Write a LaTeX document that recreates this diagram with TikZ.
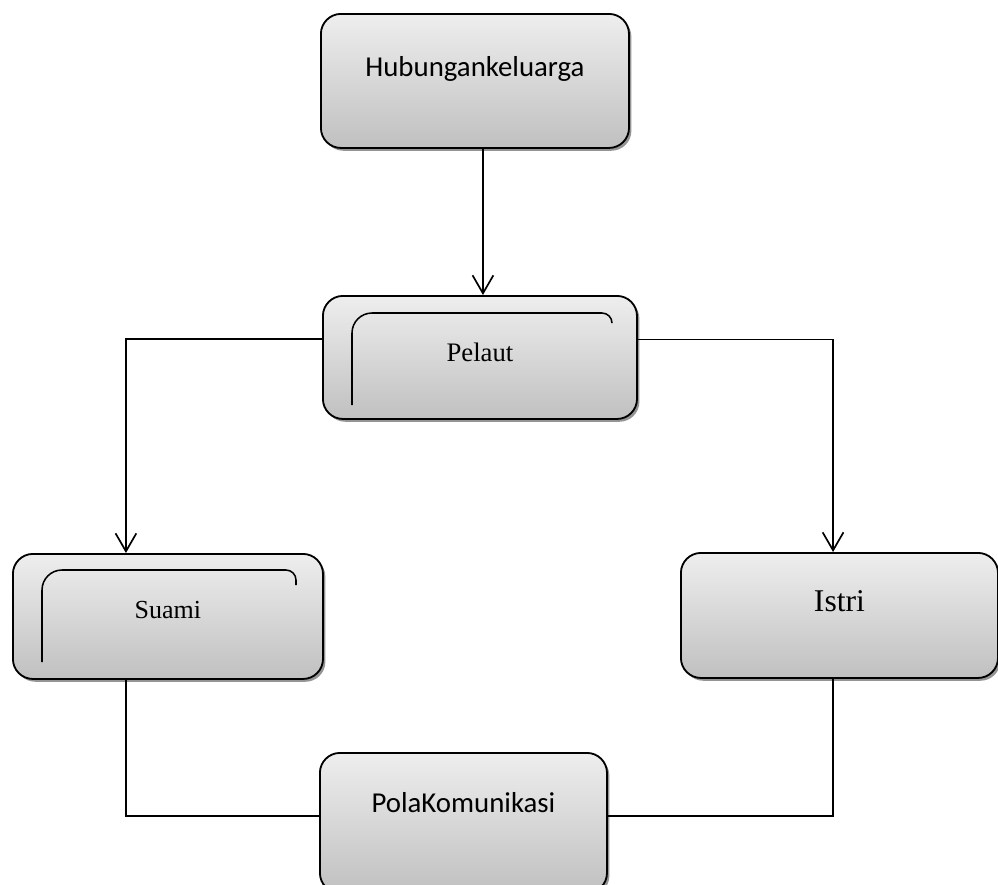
\documentclass[tikz,border=0pt]{standalone}
\usepackage{fontspec}
\setmainfont{Liberation Serif}
\newfontfamily\calibrifont{Carlito}
\usetikzlibrary{arrows.meta,positioning,shadows}
\definecolor{BoxTop}{RGB}{238,238,238}
\definecolor{BoxBottom}{RGB}{192,192,192}
\tikzset{
  relbox/.style={draw=black,line width=1.3pt,rounded corners=0.5cm,
    top color=BoxTop,bottom color=BoxBottom,inner sep=0pt,
    minimum height=0pt,anchor=north west,
    drop shadow={shadow xshift=0.06cm,shadow yshift=-0.07cm,
      fill=black!60,opacity=0.7}},
  sanslabel/.style={font=\calibrifont\fontsize{20.5}{24}\selectfont},
  seriflabel/.style={font=\fontsize{19}{23}\selectfont},
  relarrow/.style={-{Straight Barb[length=0.45cm,width=0.52cm]},
    line width=1.2pt},
  relline/.style={line width=1.2pt},
  innerframe/.style={line width=1.1pt},
}

\begin{document}
\begin{tikzpicture}[x=0.025cm,y=-0.025cm]
\useasboundingbox (0,0) rectangle (998,884);
\node[relbox,sanslabel,minimum width=7.7cm,text height=1.575cm,text depth=1.775cm] (hub) at (320,13) {Hubungankeluarga};
\node[relbox,seriflabel,minimum width=7.85cm,text height=1.65cm,text depth=1.425cm] (pelaut) at (322,295) {Pelaut};
\node[relbox,font=\fontsize{18.5}{22}\selectfont,minimum width=7.75cm,text height=1.625cm,text depth=1.5cm] (suami) at (12,553) {Suami};
\node[relbox,font=\fontsize{22.5}{27}\selectfont,minimum width=7.925cm,text height=1.475cm,text depth=1.65cm] (istri) at (680,552) {Istri\hspace{0.55cm}};
\node[relbox,sanslabel,minimum width=7.175cm,text height=1.5cm,text depth=2.0cm] (pola) at (319,752) {PolaKomunikasi};
% inner frames
\draw[innerframe,rounded corners=0.5cm] ([shift={(30,110)}]pelaut.north west) -- ++(0,-92) -- ++(130,0)
  [rounded corners=0.25cm] -- ++(130,0) -- ++(0,10);
\draw[innerframe,rounded corners=0.5cm] ([shift={(30,109)}]suami.north west) -- ++(0,-92) -- ++(127,0)
  [rounded corners=0.25cm] -- ++(127,0) -- ++(0,15);
% connectors
\coordinate (hubout) at ([xshift=0.2cm]hub.south);
\coordinate (pelL) at ([yshift=0.46cm]pelaut.west);
\coordinate (pelR) at ([yshift=0.45cm]pelaut.east);
\coordinate (suamiIn) at ([xshift=-1.05cm]suami.north);
\coordinate (istriIn) at ([xshift=-0.16cm]istri.north);
\coordinate (suamiOut) at ([xshift=-1.05cm]suami.south);
\coordinate (istriOut) at ([xshift=-0.16cm]istri.south);
\draw[relarrow] (hubout) -- (hubout |- pelaut.north);
\draw[relarrow] (pelL) -| (suamiIn);
\draw[relarrow] (pelR) -| (istriIn);
\draw[relline] (suamiOut) |- ([yshift=-0.08cm]pola.base west);
\draw[relline] (istriOut) |- ([yshift=-0.08cm]pola.base east);
\end{tikzpicture}
\end{document}
